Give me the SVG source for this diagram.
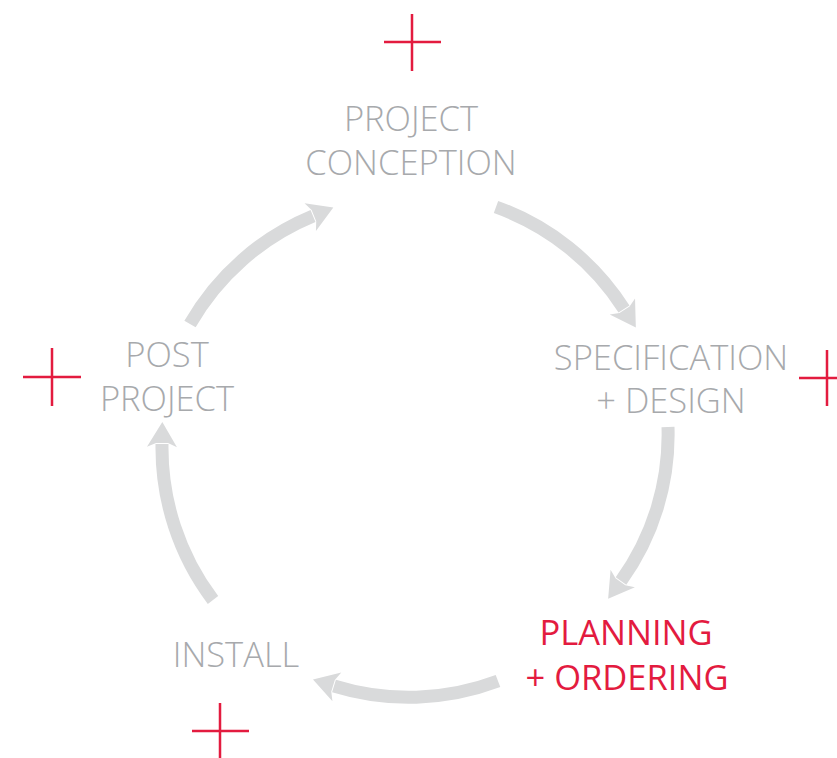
<svg xmlns="http://www.w3.org/2000/svg" width="837" height="758" viewBox="0 0 837 758">
<style>
.lbl{font-family:"Open Sans","Liberation Sans",sans-serif;font-weight:300;font-size:34.5px;fill:#a7a9ac;text-anchor:middle}
.hl{font-family:"Open Sans","Liberation Sans",sans-serif;font-weight:400;font-size:34.5px;fill:#e31b3f;text-anchor:middle}
.arc{fill:none;stroke:#d9dadb;stroke-width:13;stroke-linecap:butt}
.cross{stroke:#e31b3f;stroke-width:2.5;fill:none}
</style>
<defs>
<marker id="ah" markerUnits="userSpaceOnUse" markerWidth="40" markerHeight="40" viewBox="-10 -20 40 40" refX="0" refY="0" orient="auto">
<path d="M22,0 L-3,-15 L1,-6 L1,6 L-3,15 Z" fill="#d9dadb"/>
</marker>
</defs>
<g id="crosses">
<path class="cross" d="M384,42H441M412,14V71"/>
<path class="cross" d="M23,377H81M52,348V406"/>
<path class="cross" d="M799,378H840M827,350V406"/>
<path class="cross" d="M192,731H249M220,703V760"/>
</g>
<g id="connectors">
<path class="arc" marker-end="url(#ah)" d="M496,207 A253,253 0 0 1 624,309"/>
<path class="arc" marker-end="url(#ah)" d="M668,427 A250,250 0 0 1 621,581"/>
<path class="arc" marker-end="url(#ah)" d="M498,681 A253,253 0 0 1 334,686"/>
<path class="arc" marker-end="url(#ah)" d="M213,600 A253,253 0 0 1 162,444"/>
<path class="arc" marker-end="url(#ah)" d="M190,324 A253,253 0 0 1 313,216"/>
</g>
<g id="node-conception">
<text class="lbl" x="411" y="131">PROJECT</text>
<text class="lbl" x="411" y="175">CONCEPTION</text>
</g>
<g id="node-specification">
<text class="lbl" x="671" y="370">SPECIFICATION</text>
<text class="lbl" x="671" y="413">+ DESIGN</text>
</g>
<g id="node-planning">
<text class="hl" x="626" y="645">PLANNING</text>
<text class="hl" x="627" y="690">+ ORDERING</text>
</g>
<g id="node-install">
<text class="lbl" x="236" y="667">INSTALL</text>
</g>
<g id="node-post">
<text class="lbl" x="167" y="367">POST</text>
<text class="lbl" x="167" y="411">PROJECT</text>
</g>
</svg>
